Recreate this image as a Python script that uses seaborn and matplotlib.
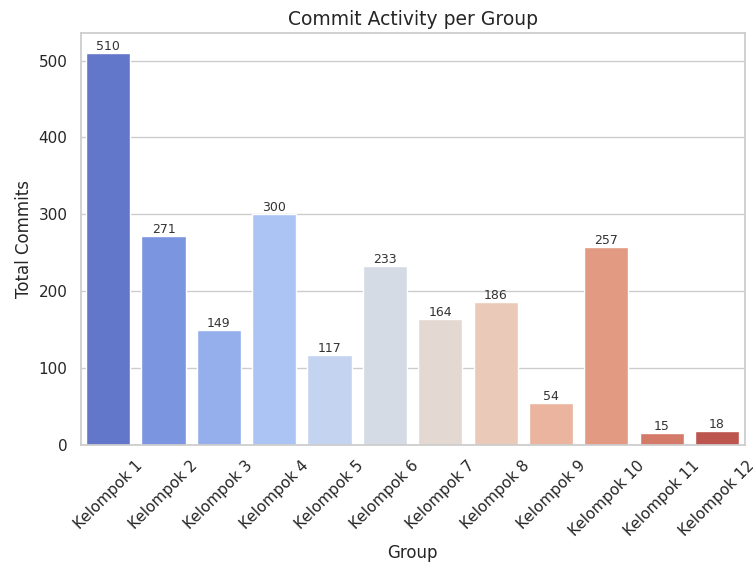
import matplotlib
matplotlib.use("Agg")
import matplotlib.pyplot as plt
import seaborn as sns
import pandas as pd

groups = [f"Kelompok {i}" for i in range(1, 13)]
commits = [510, 271, 149, 300, 117, 233, 164, 186, 54, 257, 15, 18]

sns.set_theme(style="whitegrid")
df = pd.DataFrame({"Group": groups, "Total Commits": commits})

fig, ax = plt.subplots(figsize=(7.53, 5.63), dpi=100)
sns.barplot(data=df, x="Group", y="Total Commits", hue="Group",
            palette="coolwarm", legend=False, ax=ax)
for i, v in enumerate(commits):
    ax.text(i, v, str(v), ha="center", va="bottom", fontsize=9, color="#333333")
ax.set_title("Commit Activity per Group", fontsize=13.5)
ax.set_xlabel("Group")
ax.set_ylabel("Total Commits")
plt.xticks(rotation=45)
fig.subplots_adjust(left=0.107, right=0.989, top=0.941, bottom=0.21)
fig.savefig("out.png", dpi=100)
